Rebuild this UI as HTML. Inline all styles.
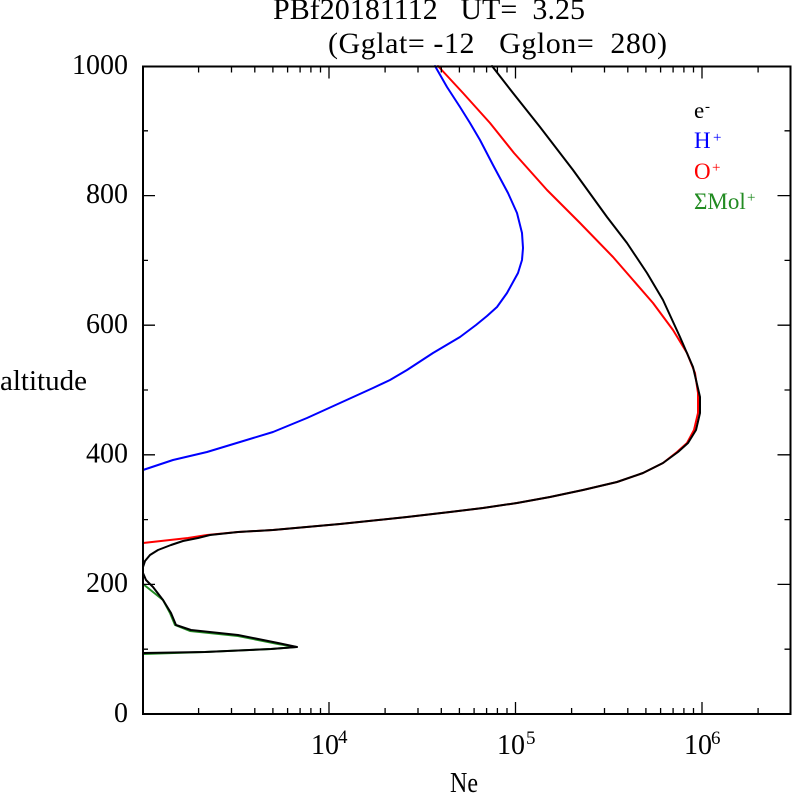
<!DOCTYPE html>
<html>
<head>
<meta charset="utf-8">
<style>
html,body{margin:0;padding:0;background:#fff;}
svg{display:block;}
text{font-family:"Liberation Serif","Times New Roman",serif;}
</style>
</head>
<body>
<svg width="792" height="795" viewBox="0 0 792 795" xmlns="http://www.w3.org/2000/svg">
<rect x="0" y="0" width="792" height="795" fill="#fff"/>

<!-- Title -->
<text x="273" y="19" font-size="30" textLength="312" lengthAdjust="spacing" xml:space="preserve">PBf20181112   UT=  3.25</text>
<text x="328" y="53" font-size="30" textLength="339" lengthAdjust="spacing" xml:space="preserve">(Gglat= -12   Gglon=  280)</text>

<!-- Curves -->
<g fill="none" stroke-width="2" stroke-linejoin="round" stroke-linecap="round">
<polyline stroke="#0000ff" points="435,66 447,87 460,107 470,123 480,140 493,165 508,193 517,213 522,233 523,248 522,260 518,273 507,293 497,307 487,316 476,325 460,337 433,353 407,370 390,380 373,388 340,403 307,418 273,432 240,442 207,452 173,460 143,470"/>
<polyline stroke="#ff0000" points="438,66 463,93 490,123 514,153 547,190 580,223 613,257 633,280 653,303 673,330 687,353 695,373 698,393 698,413 694,430 687,443 677,452 663,463 643,473 617,482 583,490 550,497 517,503 483,508 450,512 407,517 340,524 273,530 238,532 207,535 188,538 143,543"/>
<polyline stroke="#228b22" points="143,584 153,592 163,600 170,613 175,625 190,631 238,636 278,644 296,647 271,649 205,652 143,654"/>
<polyline stroke="#000000" points="492,66 513,93 540,127 573,170 607,217 627,243 647,273 663,300 680,337 693,367 700,397 700,413 696,430 688,443 678,452 663,463 643,473 617,482 583,490 550,497 517,503 483,508 450,512 407,517 340,524 273,530 238,532 210,535 198,538 183,541 171,545 158,550 150,555 145,561 143,567 143,573 146,580 153,587 163,600 171,613 176,625 191,630 238,635 278,643 297,647 271,649 205,652 143,653"/>
</g>

<!-- Frame -->
<rect x="143" y="66.5" width="647.5" height="647.5" fill="none" stroke="#000" stroke-width="2"/>

<!-- Ticks -->
<g stroke="#000" stroke-width="1.3" fill="none">
<path d="M198.6 714v-6M231.5 714v-6M254.8 714v-6M272.9 714v-6M287.6 714v-6M300.1 714v-6M310.9 714v-6M320.5 714v-6M385.1 714v-6M418 714v-6M441.3 714v-6M459.4 714v-6M474.1 714v-6M486.6 714v-6M497.4 714v-6M507 714v-6M571.6 714v-6M604.5 714v-6M627.8 714v-6M645.9 714v-6M660.6 714v-6M673.1 714v-6M683.9 714v-6M693.5 714v-6M758.1 714v-6"/>
<path d="M329 714v-12M515.5 714v-12M702 714v-12"/>
<path d="M198.6 66.5v6M231.5 66.5v6M254.8 66.5v6M272.9 66.5v6M287.6 66.5v6M300.1 66.5v6M310.9 66.5v6M320.5 66.5v6M385.1 66.5v6M418 66.5v6M441.3 66.5v6M459.4 66.5v6M474.1 66.5v6M486.6 66.5v6M497.4 66.5v6M507 66.5v6M571.6 66.5v6M604.5 66.5v6M627.8 66.5v6M645.9 66.5v6M660.6 66.5v6M673.1 66.5v6M683.9 66.5v6M693.5 66.5v6M758.1 66.5v6"/>
<path d="M329 66.5v12M515.5 66.5v12M702 66.5v12"/>
<path d="M143 649.2h5M143 519.6h5M143 390h5M143 260.4h5M143 130.8h5"/>
<path d="M143 584.4h12M143 454.8h12M143 325.2h12M143 195.6h12"/>
<path d="M790.5 649.2h-6M790.5 519.6h-6M790.5 390h-6M790.5 260.4h-6M790.5 130.8h-6"/>
<path d="M790.5 584.4h-13M790.5 454.8h-13M790.5 325.2h-13M790.5 195.6h-13"/>
</g>

<!-- Y tick labels -->
<g font-size="28" text-anchor="end">
<text x="128" y="722">0</text>
<text x="128" y="592">200</text>
<text x="128" y="462.5">400</text>
<text x="128" y="333">600</text>
<text x="128" y="203">800</text>
<text x="128" y="74">1000</text>
</g>

<!-- X tick labels -->
<g font-size="28">
<text x="311" y="754">10</text>
<text x="497" y="754">10</text>
<text x="684" y="754">10</text>
</g>
<g font-size="19">
<text x="338" y="743">4</text>
<text x="526" y="744">5</text>
<text x="711" y="744">6</text>
</g>

<!-- Axis titles -->
<text x="0" y="390" font-size="28" textLength="87" lengthAdjust="spacingAndGlyphs">altitude</text>
<text x="450" y="792" font-size="28" textLength="28" lengthAdjust="spacingAndGlyphs">Ne</text>

<!-- Legend -->
<g font-size="23">
<text x="694" y="118" fill="#000">e</text>
<text x="694" y="148" fill="#0000ff">H</text>
<text x="694" y="179" fill="#ff0000">O</text>
<text x="694" y="209" fill="#228b22">ΣMol</text>
</g>
<g font-size="15">
<text x="705" y="111" fill="#000">-</text>
<text x="713" y="142" fill="#0000ff">+</text>
<text x="712" y="172" fill="#ff0000">+</text>
<text x="747" y="202" fill="#228b22">+</text>
</g>
</svg>
</body>
</html>
